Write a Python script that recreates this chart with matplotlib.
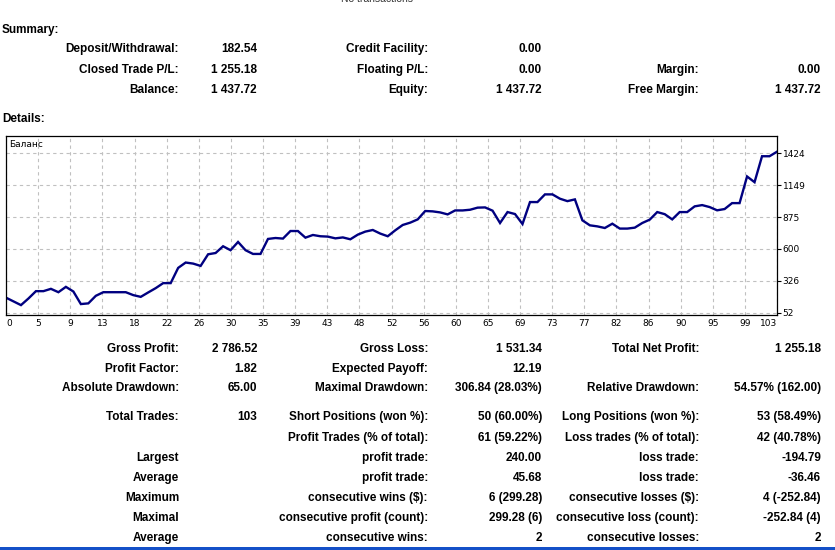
#!/usr/bin/env python3
"""MT4-style account statement: summary, balance curve and trade details."""

import matplotlib
matplotlib.use('Agg')
import matplotlib.pyplot as plt
from matplotlib.patches import Rectangle

W, H = 835, 550

# balance after each trade
balance = [182, 150, 118, 175, 238, 238, 258, 229, 275, 235,
           127, 133, 198, 229, 229, 229, 229, 204, 189, 227,
           264, 307, 307, 438, 484, 475, 455, 555, 566, 624,
           590, 661, 590, 558, 558, 687, 695, 690, 755, 755,
           698, 721, 710, 707, 692, 700, 684, 724, 750, 764,
           733, 710, 761, 807, 827, 855, 927, 924, 915, 898,
           932, 932, 938, 956, 958, 930, 824, 918, 901, 815,
           1004, 1004, 1070, 1070, 1033, 1012, 1027, 847, 804, 795,
           781, 818, 776, 776, 784, 824, 853, 918, 900, 855,
           918, 918, 967, 978, 961, 933, 944, 995, 995, 1224,
           1175, 1398, 1398, 1437]

x_tick_labels = ['0', '5', '9', '13', '18', '22', '26', '30', '35', '39', '43', '48', '52',
                 '56', '60', '65', '69', '73', '77', '82', '86', '90', '95', '99', '103']
y_ticks = [52, 326.4, 600.8, 875.2, 1149.6, 1424]
y_tick_labels = ['52', '326', '600', '875', '1149', '1424']

summary_rows = [
    ('Deposit/Withdrawal:', '182.54', 'Credit Facility:', '0.00', '', ''),
    ('Closed Trade P/L:', '1 255.18', 'Floating P/L:', '0.00', 'Margin:', '0.00'),
    ('Balance:', '1 437.72', 'Equity:', '1 437.72', 'Free Margin:', '1 437.72'),
]
summary_y = [48, 69, 89]

details_rows = [
    ('Gross Profit:', '2 786.52', 'Gross Loss:', '1 531.34', 'Total Net Profit:', '1 255.18'),
    ('Profit Factor:', '1.82', 'Expected Payoff:', '12.19', '', ''),
    ('Absolute Drawdown:', '65.00', 'Maximal Drawdown:', '306.84 (28.03%)', 'Relative Drawdown:', '54.57% (162.00)'),
    ('Total Trades:', '103', 'Short Positions (won %):', '50 (60.00%)', 'Long Positions (won %):', '53 (58.49%)'),
    ('', '', 'Profit Trades (% of total):', '61 (59.22%)', 'Loss trades (% of total):', '42 (40.78%)'),
    ('Largest', '', 'profit trade:', '240.00', 'loss trade:', '-194.79'),
    ('Average', '', 'profit trade:', '45.68', 'loss trade:', '-36.46'),
    ('Maximum', '', 'consecutive wins ($):', '6 (299.28)', 'consecutive losses ($):', '4 (-252.84)'),
    ('Maximal', '', 'consecutive profit (count):', '299.28 (6)', 'consecutive loss (count):', '-252.84 (4)'),
    ('Average', '', 'consecutive wins:', '2', 'consecutive losses:', '2'),
]
details_y = [348, 368, 387, 416, 437, 457, 477, 497, 517, 537]

# right edges of the six text columns (pixels)
col_right = [179, 257, 428, 542, 699, 821]

TEXT_FONT = ['Liberation Sans', 'DejaVu Sans']


def put(fig, x, y, s, ha='right', bold=True, size=8.5, color='black'):
    # y + 1: matplotlib's centre sits a bit high versus the browser rendering
    fig.text(x / W, 1 - (y + 1) / H, s, ha=ha, va='center', fontsize=size,
             fontweight='bold' if bold else 'normal', family=TEXT_FONT, color=color)


fig = plt.figure(figsize=(W / 100, H / 100), dpi=100)
fig.patch.set_facecolor('white')

put(fig, 377, -2, 'No transactions', ha='center', bold=False, size=7.5, color='#333333')
put(fig, 2, 29, 'Summary:', ha='left')
put(fig, 2, 118, 'Details:', ha='left')

for rows, ys in [(summary_rows, summary_y), (details_rows, details_y)]:
    for row, y in zip(rows, ys):
        for s, x in zip(row, col_right):
            if s:
                put(fig, x, y, s)

# balance chart
left, right, top, bottom = 6, 777, 136, 315
ax = fig.add_axes([left / W, 1 - bottom / H, (right - left) / W, (bottom - top) / H])
ax.plot(range(len(balance)), balance, color='#000080', lw=1.7, solid_joinstyle='miter')
n = len(balance) - 1
xt = [k * n / (len(x_tick_labels) - 1) for k in range(len(x_tick_labels))]
ax.set_xlim(0, n)
ax.set_ylim(33, 1572)
ax.set_xticks(xt)
ax.set_xticklabels(x_tick_labels, fontsize=6.5)
ax.set_yticks(y_ticks)
ax.set_yticklabels(y_tick_labels, fontsize=6.5)
ax.yaxis.tick_right()
ax.tick_params(axis='x', length=0, pad=3)
ax.tick_params(axis='y', length=3, pad=1, width=0.8)
labels = ax.get_xticklabels()
labels[0].set_ha('left')
labels[-1].set_ha('right')
ax.grid(True, color='#c0c0c0', linestyle=(0, (3, 3)), linewidth=0.8)
for sp in ax.spines.values():
    sp.set_linewidth(0.9)
    sp.set_color('black')
ax.text(0.004, 0.975, 'Баланс', transform=ax.transAxes, ha='left', va='top', fontsize=6.5)

# blue strip at the very bottom
fig.patches.append(Rectangle((0, 0), 1, 3.5 / H, transform=fig.transFigure,
                             facecolor='#1450c8', edgecolor='none'))

plt.savefig('out.png', dpi=100)
plt.close()
